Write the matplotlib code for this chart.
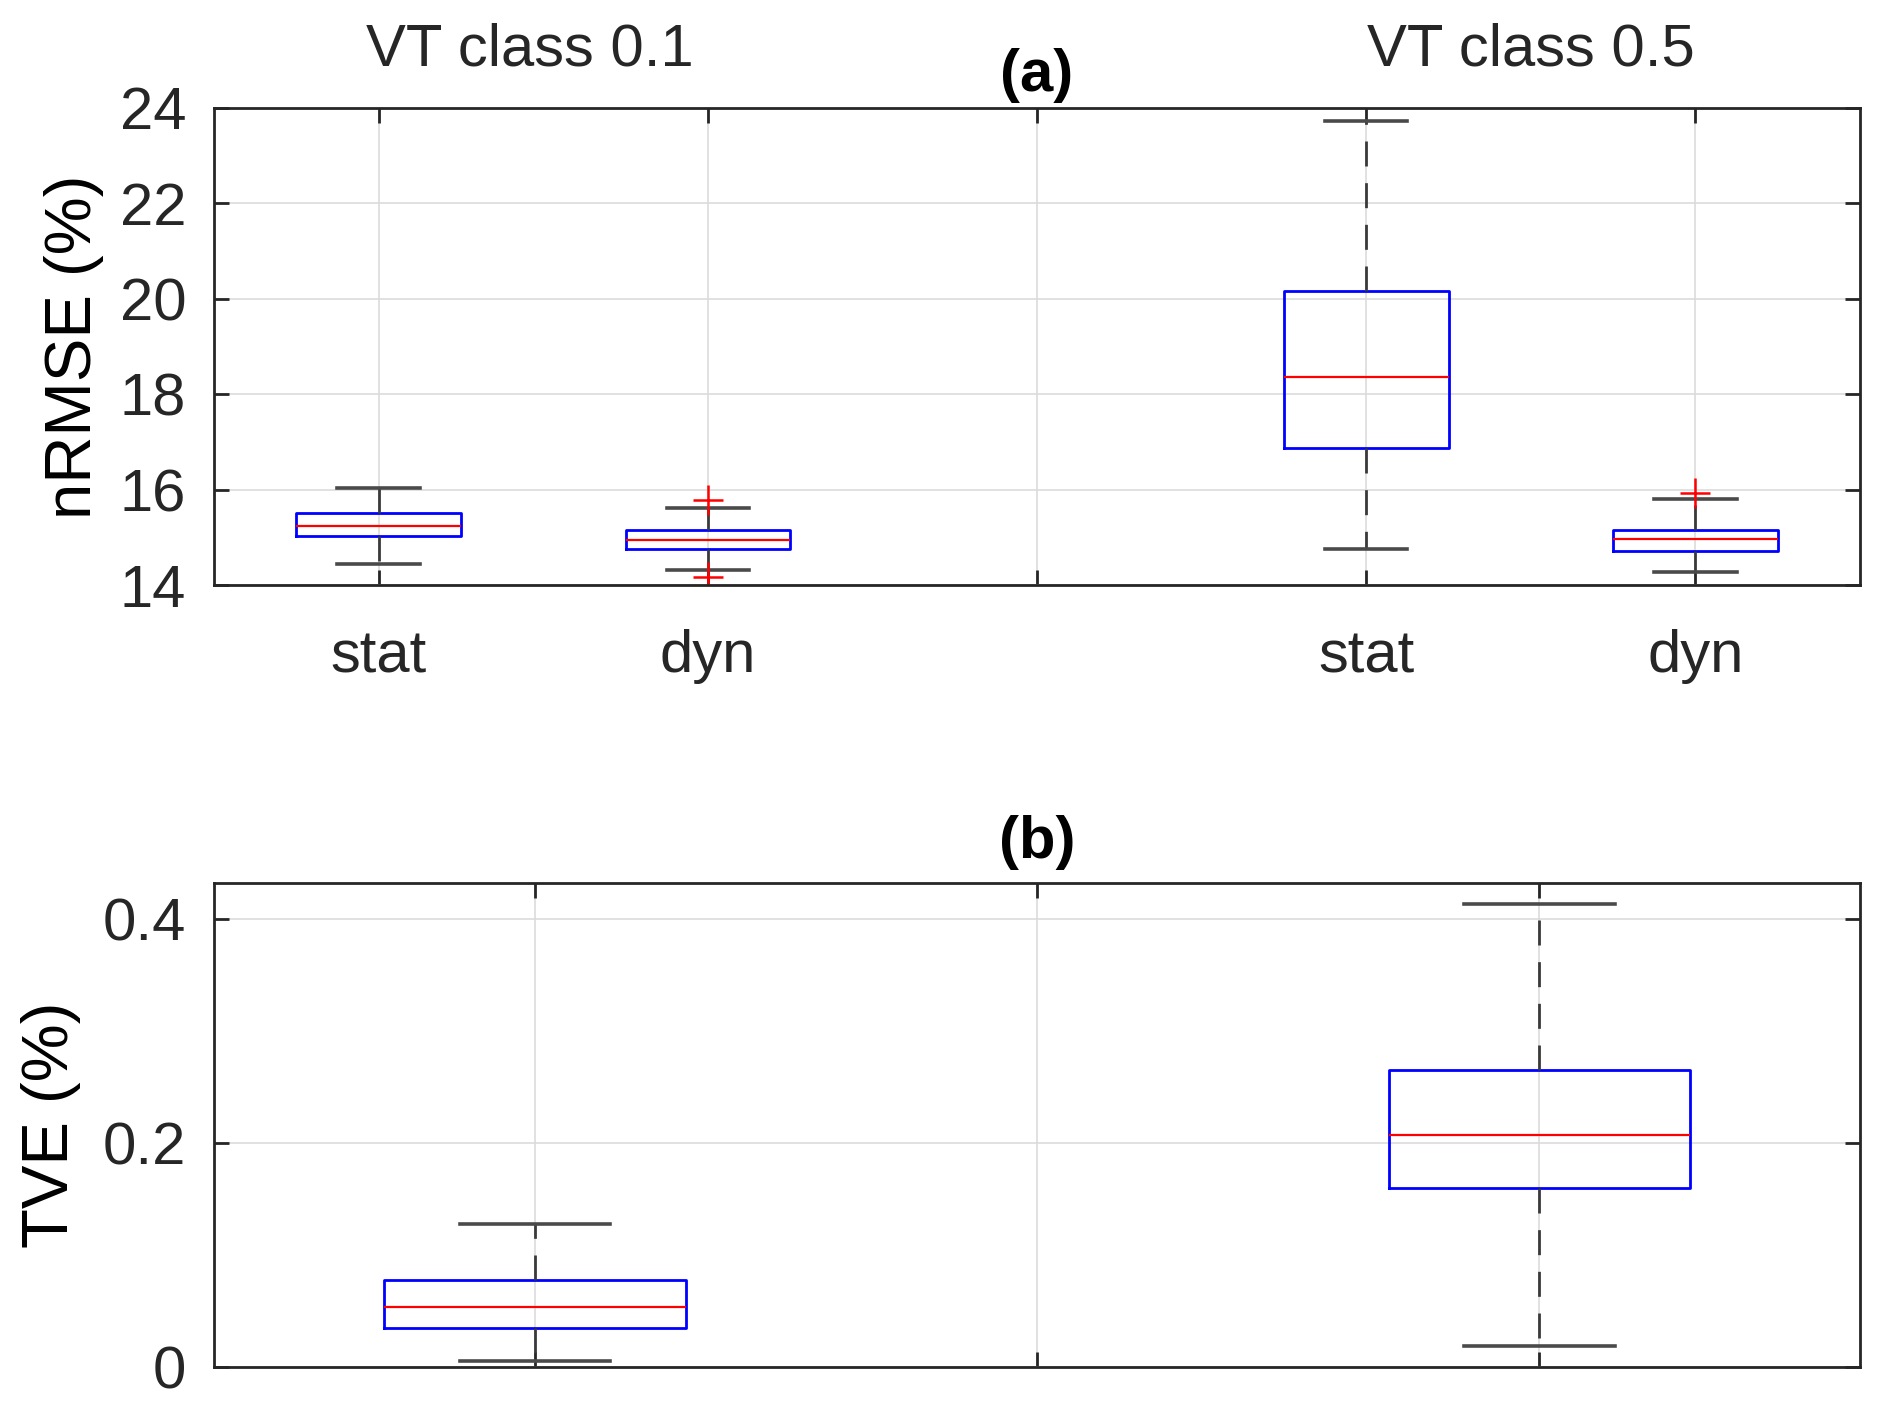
import numpy as np
import matplotlib
matplotlib.use('Agg')
import matplotlib.pyplot as plt

plt.rcParams['font.family'] = ['Liberation Sans', 'DejaVu Sans']
plt.rcParams['lines.scale_dashes'] = False

# (a) nRMSE (%) box statistics
nrmse_pos = [1, 2, 4, 5]
nrmse_whislo = [14.45, 14.32, 14.75, 14.27]
nrmse_q1 = [15.02, 14.76, 16.87, 14.72]
nrmse_med = [15.24, 14.95, 18.37, 14.96]
nrmse_q3 = [15.50, 15.16, 20.17, 15.16]
nrmse_whishi = [16.03, 15.62, 23.72, 15.81]
nrmse_fliers = [[], [14.16, 15.79], [], [15.94]]
nrmse_ticks = [1, 2, 3, 4, 5]
nrmse_ticklabels = ['stat', 'dyn', '', 'stat', 'dyn']
groups = ['VT class 0.1', 'VT class 0.5']
group_x = [1.46, 4.5]

# (b) TVE (%) box statistics
tve_pos = [1, 3]
tve_whislo = [0.0053, 0.0187]
tve_q1 = [0.035, 0.1595]
tve_med = [0.0537, 0.2066]
tve_q3 = [0.078, 0.2646]
tve_whishi = [0.1277, 0.4128]
tve_ticks = [1, 2, 3]


def make_stats(lo, q1, med, q3, hi, fl=None):
    out = []
    for i in range(len(med)):
        out.append(dict(whislo=lo[i], q1=q1[i], med=med[i], q3=q3[i], whishi=hi[i],
                        fliers=(fl[i] if fl else [])))
    return out


def draw_boxes(ax, stats, pos, width):
    ax.bxp(stats, positions=pos, widths=width, showfliers=True,
           boxprops=dict(color='#0000ff', linewidth=2.0),
           medianprops=dict(color='#ff0000', linewidth=1.6),
           whiskerprops=dict(color='#3a3a3a', linewidth=2.0, linestyle=(0, (18, 12))),
           capprops=dict(color='#4a4a4a', linewidth=2.6),
           flierprops=dict(marker='+', markeredgecolor='#ff0000', markersize=22,
                           markeredgewidth=1.8, linestyle='none'),
           capwidths=width / 2, manage_ticks=False)


def style_axes(ax):
    ax.set_axisbelow(True)
    ax.grid(True, color='#dcdcdc', linewidth=1.2)
    for sp in ax.spines.values():
        sp.set_color('#262626')
        sp.set_linewidth(2.0)
    ax.tick_params(direction='in', length=11, width=2.0, colors='#262626',
                   top=True, right=True, labelsize=43)
    ax.tick_params(axis='x', pad=32)
    ax.tick_params(axis='y', pad=20)


fig = plt.figure(figsize=(18.84, 14.19), dpi=100)
ax1 = fig.add_axes([0.1136, 0.5877, 0.8737, 0.3362])
ax2 = fig.add_axes([0.1136, 0.0366, 0.8737, 0.3411])

draw_boxes(ax1, make_stats(nrmse_whislo, nrmse_q1, nrmse_med, nrmse_q3, nrmse_whishi, nrmse_fliers),
           nrmse_pos, 0.5)
ax1.set_xlim(0.5, 5.5)
ax1.set_ylim(14, 24)
ax1.set_yticks([14, 16, 18, 20, 22, 24])
ax1.set_xticks(nrmse_ticks)
ax1.set_xticklabels(nrmse_ticklabels)
style_axes(ax1)
ax1.set_ylabel('nRMSE (%)', fontsize=47, va='center')
ax1.yaxis.set_label_coords(-0.085, 0.5)
ax1.set_title('(a)', fontsize=43, fontweight='bold', pad=12)
for g, gx in zip(groups, group_x):
    ax1.text(gx, 1.09, g, transform=ax1.get_xaxis_transform(), ha='center', va='baseline',
             fontsize=43, color='#262626')

draw_boxes(ax2, make_stats(tve_whislo, tve_q1, tve_med, tve_q3, tve_whishi),
           tve_pos, 0.6)
ax2.set_xlim(0.361, 3.639)
ax2.set_ylim(0, 0.4317)
ax2.set_yticks([0, 0.2, 0.4])
ax2.set_yticklabels(['0', '0.2', '0.4'])
ax2.set_xticks(tve_ticks)
ax2.set_xticklabels([])
style_axes(ax2)
ax2.set_ylabel('TVE (%)', fontsize=47, va='center')
ax2.yaxis.set_label_coords(-0.099, 0.5)
ax2.set_title('(b)', fontsize=43, fontweight='bold', pad=18)

fig.savefig('out.png', dpi=100)
